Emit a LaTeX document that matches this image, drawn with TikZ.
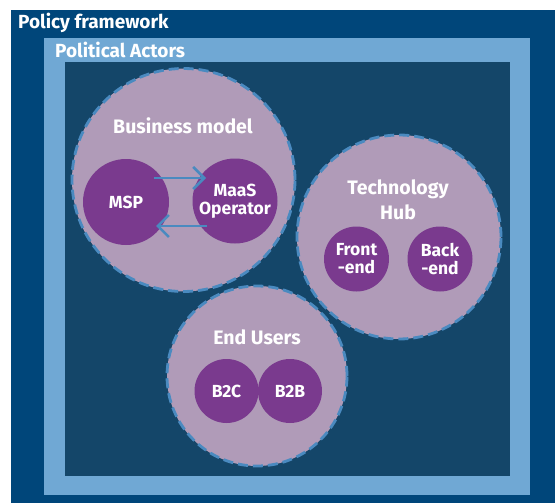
\documentclass[tikz,border=0pt]{standalone}
\usepackage{fontspec}
\setmainfont{Fira Sans}
\usetikzlibrary{arrows.meta}
\definecolor{frameblue}{RGB}{0,70,122}
\definecolor{actorblue}{RGB}{112,168,212}
\definecolor{innerblue}{RGB}{20,70,105}
\definecolor{bubble}{RGB}{176,155,184}
\definecolor{core}{RGB}{122,58,142}
\definecolor{linkblue}{RGB}{74,138,192}
\begin{document}
\begin{tikzpicture}[x=1pt,y=-1pt,
  realmcircle/.style={circle,fill=bubble,draw=linkblue,line width=2.8pt,
    dash pattern=on 10pt off 5pt,inner sep=0pt},
  unitdot/.style={circle,fill=core,inner sep=0pt,text=white,
    font=\bfseries\fontsize{17.5}{18}\selectfont,align=center},
  captiontext/.style={text=white,font=\bfseries\fontsize{19.5}{25}\selectfont,align=center,inner sep=0pt},
  titletext/.style={text=white,font=\bfseries\fontsize{19}{22}\selectfont,anchor=west,inner sep=0pt},
  flowarrow/.style={draw=linkblue,line width=2.6pt,-{Straight Barb[length=11pt,width=22pt,line width=2.6pt]}}]
\useasboundingbox (0,0) rectangle (555,503);
% nested frames
\fill[frameblue] (11,10) rectangle (555,503);
\fill[actorblue] (44,38) rectangle (530,495);
\fill[innerblue] (65,62) rectangle (510,476);
\node[titletext] (policy) at (18,23) {Policy framework};
\node[titletext] (actors) at (55,50) {Political Actors};
% business model
\node[realmcircle,minimum size=223pt] (bm) at (183.5,180) {};
\node[captiontext] (bmlabel) at (183,126) {Business model};
\node[unitdot,minimum size=86pt] (msp) at (126,202) {MSP};
\node[unitdot,minimum size=85pt] (maas) at (235,201) {MaaS\\Operator};
\coordinate (a1s) at (154,178);
\coordinate (a1e) at (206,178);
\coordinate (a2s) at (207,226);
\coordinate (a2e) at (156,226);
\draw[flowarrow] (a1s) -- (a1e);
\draw[flowarrow] (a2s) -- (a2e);
% technology hub
\node[realmcircle,minimum size=204pt] (tech) at (399,237) {};
\node[captiontext] (techlabel) at (398,200) {Technology\\Hub};
\node[unitdot,minimum size=65pt] (front) at (356.5,259) {Front\\-end};
\node[unitdot,minimum size=65pt] (back) at (440,259) {Back\\-end};
% end users
\node[realmcircle,minimum size=180pt] (users) at (257,376) {};
\node[captiontext] (userslabel) at (257,337) {End Users};
\node[unitdot,minimum size=64pt] (b2c) at (226.5,391) {B2C};
\node[unitdot,minimum size=64pt] (b2b) at (290,391) {B2B};
\end{tikzpicture}
\end{document}
